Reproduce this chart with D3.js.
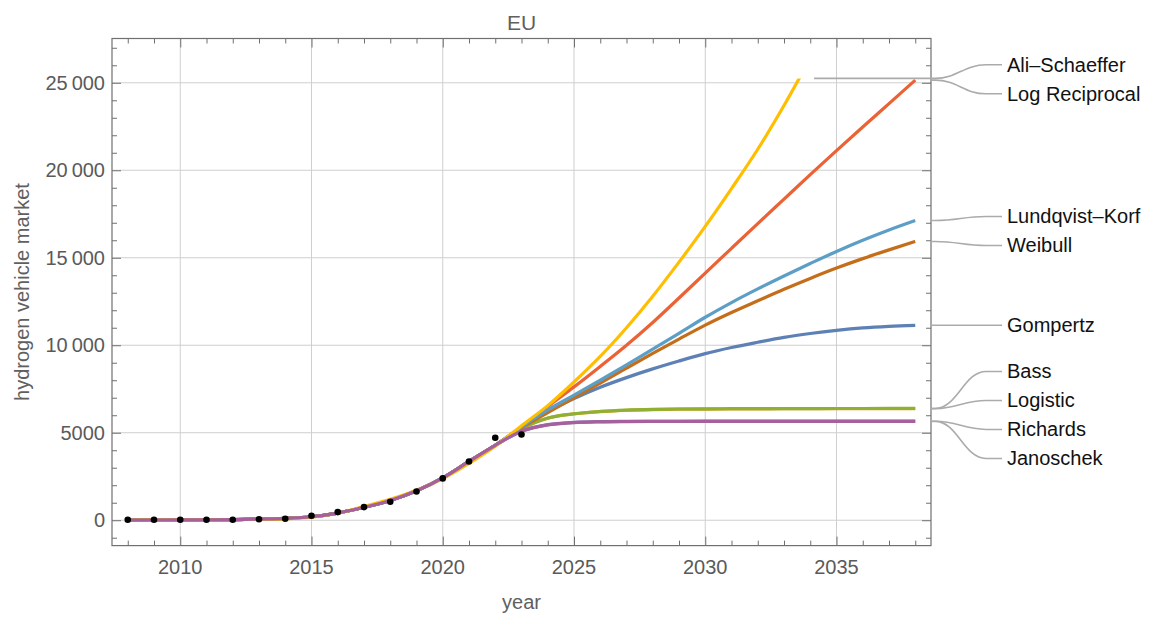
<!DOCTYPE html>
<html>
<head>
<meta charset="utf-8">
<script src="https://cdn.jsdelivr.net/npm/d3@7"></script>
<style>
  html, body { margin: 0; padding: 0; background: #fff; }
  svg { display: block; font-family: "Liberation Sans", Arial, sans-serif; }
</style>
</head>
<body>
<svg id="chart" width="1152" height="617"></svg>
<script>
// Years on which every fitted curve is sampled
const years = [2008, 2009, 2010, 2011, 2012, 2013, 2014, 2015, 2016, 2017, 2018,
  2019, 2020, 2021, 2022, 2023, 2024, 2025, 2026, 2027, 2028, 2029, 2030,
  2031, 2032, 2033, 2034, 2035, 2036, 2037, 2038];

// Observed EU hydrogen vehicle market
const obsYears = [2008, 2009, 2010, 2011, 2012, 2013, 2014, 2015, 2016, 2017,
  2018, 2019, 2020, 2021, 2022, 2023];
const obsValues = [25, 25, 25, 25, 25, 60, 85, 255, 465, 750, 1055, 1645,
  2390, 3360, 4710, 4900];

// Fitted growth models (one value per entry of `years`)
const gompertz = [8, 12, 18, 26, 38, 60, 105, 200, 410, 740, 1130, 1680, 2420, 3360, 4280,
  5300, 6200, 6950, 7600, 8150, 8650, 9100, 9520, 9870, 10170, 10450, 10670, 10850, 10990, 11080, 11140];
const logistic = [8, 12, 18, 26, 38, 60, 105, 200, 410, 740, 1130, 1680, 2420, 3360, 4280,
  5220, 5830, 6075, 6205, 6285, 6325, 6345, 6355, 6362, 6366, 6370, 6372, 6374, 6375, 6376, 6377];
const bass = [8, 12, 18, 26, 38, 60, 105, 200, 410, 740, 1130, 1680, 2420, 3360, 4280,
  5230, 5840, 6085, 6217, 6295, 6335, 6356, 6367, 6373, 6378, 6381, 6383, 6385, 6386, 6387, 6388];
const logReciprocal = [8, 12, 18, 26, 38, 60, 105, 200, 410, 740, 1130, 1680, 2420, 3360, 4280,
  5330, 6500, 7620, 8790, 10000, 11300, 12700, 14125, 15540, 16950, 18350, 19750, 21120, 22470, 23810, 25150];
const richards = [8, 12, 18, 26, 38, 60, 105, 200, 410, 740, 1130, 1680, 2420, 3360, 4280,
  5090, 5460, 5590, 5635, 5650, 5655, 5657, 5658, 5658, 5658, 5658, 5658, 5658, 5658, 5658, 5658];
const weibull = [8, 12, 18, 26, 38, 60, 105, 200, 410, 740, 1130, 1680, 2420, 3360, 4280,
  5280, 6150, 7000, 7840, 8690, 9530, 10350, 11150, 11870, 12540, 13200, 13820, 14410, 14950, 15450, 15930];
const lundqvistKorf = [8, 12, 18, 26, 38, 60, 105, 200, 410, 740, 1130, 1680, 2420, 3360, 4280,
  5330, 6300, 7150, 8000, 8880, 9780, 10680, 11600, 12440, 13220, 13960, 14670, 15360, 16000, 16590, 17130];
const aliSchaeffer = [8, 12, 18, 26, 38, 50, 80, 175, 400, 780, 1200, 1720, 2380, 3250, 4230,
  5400, 6550, 7900, 9360, 11000, 12800, 14750, 16790, 18950, 21200, 23700, 26400, null, null, null, null];
const janoschek = [8, 12, 18, 26, 38, 60, 105, 200, 410, 740, 1130, 1680, 2420, 3360, 4280,
  5080, 5450, 5580, 5625, 5640, 5645, 5647, 5648, 5648, 5648, 5648, 5648, 5648, 5648, 5648, 5648];

const seriesNames = ["Gompertz", "Logistic", "Bass", "Log Reciprocal", "Richards",
  "Weibull", "Lundqvist\u2013Korf", "Ali\u2013Schaeffer", "Janoschek"];
const seriesValues = [gompertz, logistic, bass, logReciprocal, richards,
  weibull, lundqvistKorf, aliSchaeffer, janoschek];
const seriesColors = ["#5E81B5", "#E19C24", "#8FB032", "#EB6235", "#8778B3",
  "#C56E1A", "#5D9EC7", "#FFBF00", "#A5609D"];

const xMajorTicks = [2010, 2015, 2020, 2025, 2030, 2035];
const yMajorTicks = [0, 5000, 10000, 15000, 20000, 25000];
const yTickLabels = ["0", "5000", "10\u2009000", "15\u2009000", "20\u2009000", "25\u2009000"];

const rangeTop = 25250;      // upper limit of the plotted range

const svg = d3.select("#chart");
const W = 1152, H = 617;
const plot = { left: 112, right: 931, top: 38.5, bottom: 545.6 };

const x = d3.scaleLinear().domain([2007.4, 2038.6]).range([plot.left, plot.right]);
const y = d3.scaleLinear().domain([-1450, 27530]).range([plot.bottom, plot.top]);

svg.append("rect").attr("width", W).attr("height", H).attr("fill", "#fff");

// grid
const grid = svg.append("g").attr("stroke", "#cfcfcf").attr("stroke-width", 1);
grid.selectAll(".gx").data(xMajorTicks).join("line")
  .attr("x1", d => x(d)).attr("x2", d => x(d))
  .attr("y1", plot.top).attr("y2", plot.bottom);
grid.selectAll(".gy").data(yMajorTicks).join("line")
  .attr("x1", plot.left).attr("x2", plot.right)
  .attr("y1", d => y(d)).attr("y2", d => y(d));

// frame axes with inward ticks on all four sides
const tickColor = "#707070";
const xMinor = d3.range(2008, 2039).filter(v => v % 5 !== 0);
const yMinor = d3.range(-1000, 27001, 1000).filter(v => v % 5000 !== 0);

function frameAxis(axisFn, scale, ticks, size, transform) {
  const g = svg.append("g").attr("transform", transform)
    .call(axisFn(scale).tickValues(ticks).tickSize(size).tickFormat(""));
  g.select(".domain").remove();
  g.selectAll(".tick line").attr("stroke", tickColor);
  return g;
}
frameAxis(d3.axisTop, x, xMajorTicks, 9, `translate(0,${plot.bottom})`);
frameAxis(d3.axisTop, x, xMinor, 5, `translate(0,${plot.bottom})`);
frameAxis(d3.axisBottom, x, xMajorTicks, 9, `translate(0,${plot.top})`);
frameAxis(d3.axisBottom, x, xMinor, 5, `translate(0,${plot.top})`);
frameAxis(d3.axisRight, y, yMajorTicks, 9, `translate(${plot.left},0)`);
frameAxis(d3.axisRight, y, yMinor, 5, `translate(${plot.left},0)`);
frameAxis(d3.axisLeft, y, yMajorTicks, 9, `translate(${plot.right},0)`);
frameAxis(d3.axisLeft, y, yMinor, 5, `translate(${plot.right},0)`);

svg.append("rect")
  .attr("x", plot.left).attr("y", plot.top)
  .attr("width", plot.right - plot.left).attr("height", plot.bottom - plot.top)
  .attr("fill", "none").attr("stroke", tickColor).attr("stroke-width", 1.2);

// tick labels
const labelColor = "#5a5a5a";
svg.append("g").selectAll("text").data(xMajorTicks).join("text")
  .attr("x", d => x(d)).attr("y", 574)
  .attr("text-anchor", "middle").attr("font-size", 20).attr("fill", labelColor)
  .text(d => d);
svg.append("g").selectAll("text").data(yMajorTicks).join("text")
  .attr("x", 105).attr("y", d => y(d)).attr("dy", "0.36em")
  .attr("text-anchor", "end").attr("font-size", 20).attr("fill", labelColor)
  .text((d, i) => yTickLabels[i]);

// titles
svg.append("text").attr("x", (plot.left + plot.right) / 2).attr("y", 30)
  .attr("text-anchor", "middle").attr("font-size", 21).attr("fill", "#606060").text("EU");
svg.append("text").attr("x", (plot.left + plot.right) / 2).attr("y", 609)
  .attr("text-anchor", "middle").attr("font-size", 20).attr("fill", "#606060").text("year");
svg.append("text")
  .attr("transform", `translate(29,${(plot.top + plot.bottom) / 2}) rotate(-90)`)
  .attr("text-anchor", "middle").attr("font-size", 20).attr("fill", "#606060")
  .text("hydrogen vehicle market");

// curves, clipped to the plotted range
svg.append("defs").append("clipPath").attr("id", "clip")
  .append("rect")
  .attr("x", plot.left).attr("y", y(rangeTop))
  .attr("width", plot.right - plot.left).attr("height", plot.bottom - y(rangeTop));

const line = d3.line()
  .defined(d => d[1] != null)
  .x(d => x(d[0])).y(d => y(d[1]))
  .curve(d3.curveMonotoneX);

const curves = svg.append("g").attr("clip-path", "url(#clip)");
seriesValues.forEach((vals, i) => {
  curves.append("path")
    .datum(years.map((yr, j) => [yr, vals[j]]))
    .attr("d", line)
    .attr("fill", "none")
    .attr("stroke", seriesColors[i])
    .attr("stroke-width", 3.2)
    .attr("stroke-linejoin", "round");
});

// observed points
svg.append("g").selectAll("circle").data(obsYears).join("circle")
  .attr("cx", d => x(d)).attr("cy", (d, i) => y(obsValues[i]))
  .attr("r", 3.3).attr("fill", "#000");

// end point of each curve inside the plotted range
const ends = seriesValues.map((vals, i) => {
  let k = vals.length - 1;
  while (vals[k] == null) k--;
  let ex = years[k], ev = vals[k];
  if (ev > rangeTop) {
    const t = (rangeTop - vals[k - 1]) / (vals[k] - vals[k - 1]);
    ex = years[k - 1] + t * (years[k] - years[k - 1]);
    ev = rangeTop;
  }
  return { name: seriesNames[i], px: x(ex), py: y(ev) };
});

// spread labels vertically so that they do not overlap
const gap = 29;
const sorted = ends.slice().sort((a, b) => a.py - b.py);
let groups = [];
sorted.forEach(it => {
  groups.push({ items: [it], mean: it.py });
  while (groups.length > 1) {
    const g = groups[groups.length - 1], p = groups[groups.length - 2];
    const top = g.mean - (g.items.length - 1) / 2 * gap;
    const pBottom = p.mean + (p.items.length - 1) / 2 * gap;
    if (pBottom + gap > top) {
      const items = p.items.concat(g.items);
      groups.splice(groups.length - 2, 2, { items, mean: d3.mean(items, d => d.py) });
    } else break;
  }
});
groups.forEach(g => g.items.forEach((it, k) => {
  it.ly = g.mean + (k - (g.items.length - 1) / 2) * gap;
}));

const labelX = 1002;
const bendX = x(2038) + 20;
const leaders = svg.append("g").attr("fill", "none").attr("stroke", "#ababab").attr("stroke-width", 1.6);
ends.forEach(it => {
  const sx = it.px + 15, sy = it.py, ly = it.ly;
  const p = d3.path();
  p.moveTo(sx, sy);
  p.lineTo(bendX, sy);
  p.bezierCurveTo(bendX + 22, sy, labelX - 38, ly, labelX - 16, ly);
  p.lineTo(labelX, ly);
  leaders.append("path").attr("d", p.toString());
});
svg.append("g").selectAll("text").data(ends).join("text")
  .attr("x", labelX + 5).attr("y", d => d.ly).attr("dy", "0.35em")
  .attr("font-size", 20).attr("fill", "#111")
  .text(d => d.name);
</script>
</body>
</html>
